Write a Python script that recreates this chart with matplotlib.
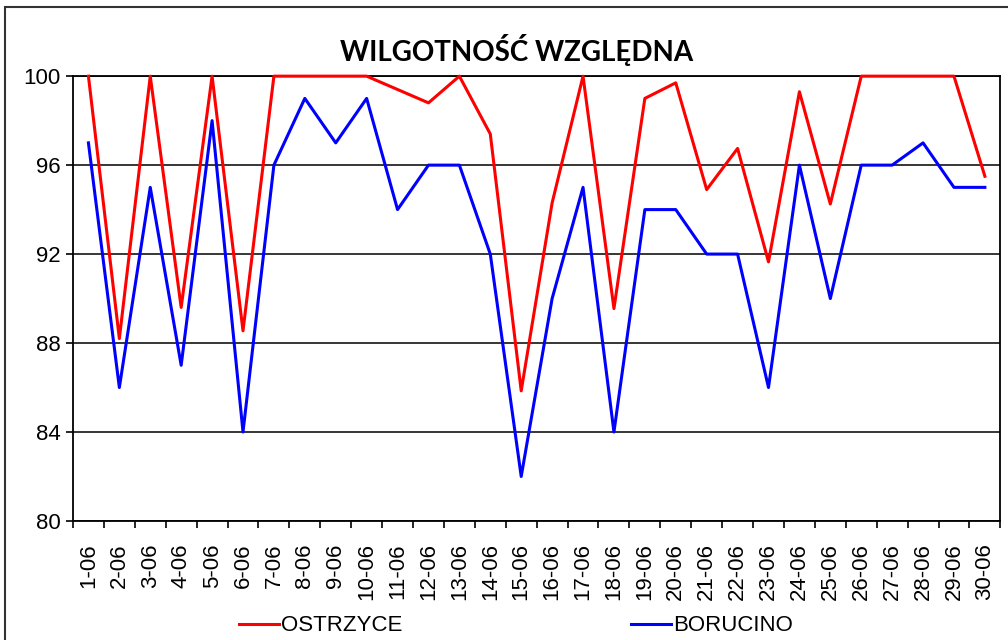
import matplotlib

matplotlib.use("Agg")
import matplotlib.pyplot as plt
from matplotlib.patches import Rectangle
from matplotlib.ticker import FixedLocator

days = [f"{d}-06" for d in range(1, 31)]

ostrzyce = [
    100, 88.2, 100, 89.6, 100, 88.55, 100, 100, 100, 100,
    99.4, 98.8, 100, 97.4, 85.85, 94.3, 100, 89.55, 99.0, 99.7,
    94.9, 96.75, 91.65, 99.3, 94.25, 100, 100, 100, 100, 95.5,
]
borucino = [
    97, 86, 95, 87, 98, 84, 96, 99, 97, 99,
    94, 96, 96, 92, 82, 90, 95, 84, 94, 94,
    92, 92, 86, 96, 90, 96, 96, 97, 95, 95,
]

y_ticks = [80, 84, 88, 92, 96, 100]

plt.rcParams["font.family"] = ["Liberation Sans", "DejaVu Sans"]

fig = plt.figure(figsize=(10.08, 6.4), dpi=100)
ax = fig.add_axes([0.0724, 0.186, 0.92, 0.695])

x = list(range(len(days)))
ax.plot(x, ostrzyce, color="#ff0000", lw=2.2, label="OSTRZYCE", zorder=3, clip_on=False)
ax.plot(x, borucino, color="#0000ff", lw=2.2, label="BORUCINO", zorder=3, clip_on=False)

ax.set_xlim(-0.5, len(days) - 0.5)
ax.set_ylim(80, 100)
ax.set_yticks(y_ticks)
ax.set_yticklabels([str(v) for v in y_ticks], fontsize=16)
ax.yaxis.grid(True, color="black", lw=1.1)
ax.set_axisbelow(True)

ax.set_xticks(x)
ax.set_xticklabels(days, rotation=90, fontsize=16, va="top")
ax.xaxis.set_minor_locator(FixedLocator([i - 0.5 for i in range(len(days) + 1)]))
ax.tick_params(axis="x", which="major", length=0, pad=16)
ax.tick_params(axis="x", which="minor", length=5, width=1.2, direction="out")
ax.tick_params(axis="y", length=5, width=1.2, direction="out", pad=4)

for side in ["left", "bottom", "right", "top"]:
    ax.spines[side].set_linewidth(1.3)
    ax.spines[side].set_color("black")

fig.text(0.512, 0.922, "WILGOTNOŚĆ WZGLĘDNA", ha="center", va="center",
         fontsize=20, fontweight="bold", family=["Lato", "DejaVu Sans"])

fig.legend(loc="center", bbox_to_anchor=(0.512, 0.022), ncol=2, frameon=False,
           fontsize=16, handlelength=1.8, handletextpad=0.1, columnspacing=10.3)

fig.patches.append(Rectangle((0.005, -0.2), 1.2, 1.189, transform=fig.transFigure,
                             fill=False, edgecolor="#333333", lw=1.5, clip_on=False))

fig.savefig("out.png", dpi=100)
